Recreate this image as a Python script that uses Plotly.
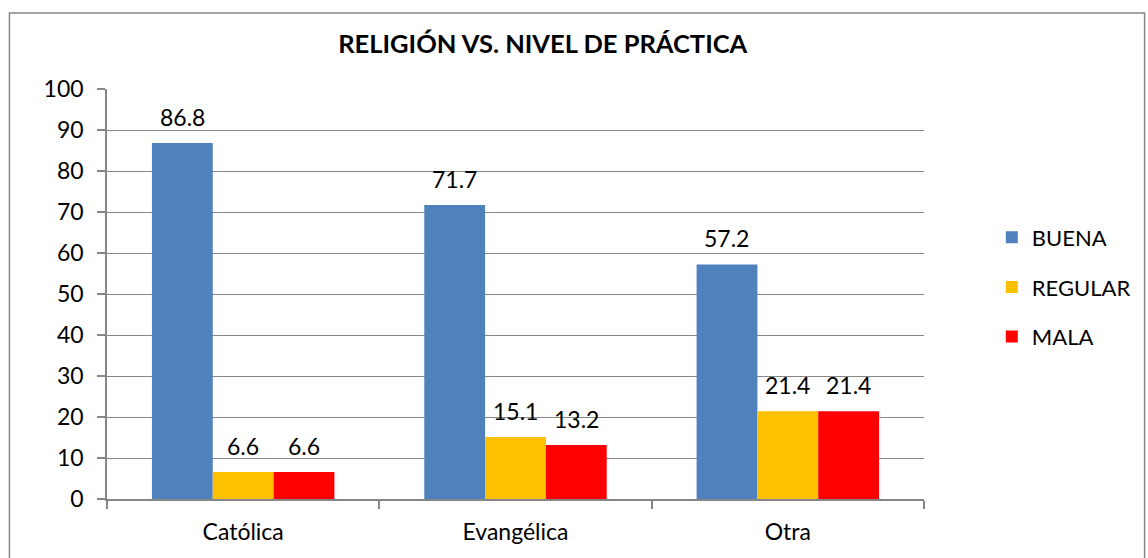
import plotly.graph_objects as go

# Religion vs. practice level (percent)
categorias = ["Católica", "Evangélica", "Otra"]
buena = [86.8, 71.7, 57.2]
regular = [6.6, 15.1, 21.4]
mala = [6.6, 13.2, 21.4]
series = [("BUENA", buena, "#4F81BD"),
          ("REGULAR", regular, "#FFC000"),
          ("MALA", mala, "#FF0000")]
ticks_y = [0, 10, 20, 30, 40, 50, 60, 70, 80, 90, 100]

FONT = "Lato"
GRID = "#868686"
TXT = 23

fig = go.Figure()
for i, (nombre, valores, color) in enumerate(series):
    fig.add_trace(go.Bar(
        name=nombre, x=categorias, y=valores,
        marker=dict(color=color, line=dict(width=0)),
        legendgroup=nombre,
    ))

# value labels above each bar
offsets = [-61, 0, 61]
for (nombre, valores, color), dx in zip(series, offsets):
    for cat, v in zip(categorias, valores):
        fig.add_annotation(
            x=cat, y=v, text=f"{v:.1f}", showarrow=False,
            xshift=dx, yshift=26, yanchor="middle",
            font=dict(family=FONT, size=TXT, color="#000000"),
        )

# chart outline
fig.add_shape(type="rect", xref="paper", yref="paper",
              x0=-0.1194, x1=1.27, y0=-0.16, y1=1.1854,
              line=dict(color="#868686", width=1.5), fillcolor="rgba(0,0,0,0)",
              layer="below")

fig.update_layout(
    width=1148, height=558,
    margin=dict(l=107, r=220, t=89, b=59),
    paper_bgcolor="white", plot_bgcolor="white",
    barmode="group", bargap=0.33, bargroupgap=0,
    title=dict(text="<b>RELIGIÓN VS. NIVEL DE PRÁCTICA</b>",
               x=0.4728, xanchor="center", y=0.921, yanchor="middle",
               font=dict(family=FONT, size=25.5, color="#000000")),
    legend=dict(x=1.083, xanchor="left", y=0.517, yanchor="middle",
                font=dict(family=FONT, size=22, color="#000000"),
                tracegroupgap=18, itemwidth=30, bgcolor="rgba(0,0,0,0)"),
    font=dict(family=FONT, size=TXT, color="#000000"),
    xaxis=dict(showline=True, linecolor=GRID, linewidth=1.5,
               ticks="outside", tickson="boundaries", ticklen=8,
               tickcolor=GRID, tickwidth=1.5, showgrid=False,
               ticklabelstandoff=12,
               tickfont=dict(family=FONT, size=TXT, color="#000000")),
    yaxis=dict(range=[0, 100], tickvals=ticks_y, showline=True,
               linecolor=GRID, linewidth=1.5, ticks="outside", ticklen=8,
               tickcolor=GRID, tickwidth=1.5, showgrid=True,
               gridcolor=GRID, gridwidth=1.2, zeroline=False,
               ticklabelstandoff=9,
               tickfont=dict(family=FONT, size=TXT, color="#000000")),
)

fig.write_html("out.html")
